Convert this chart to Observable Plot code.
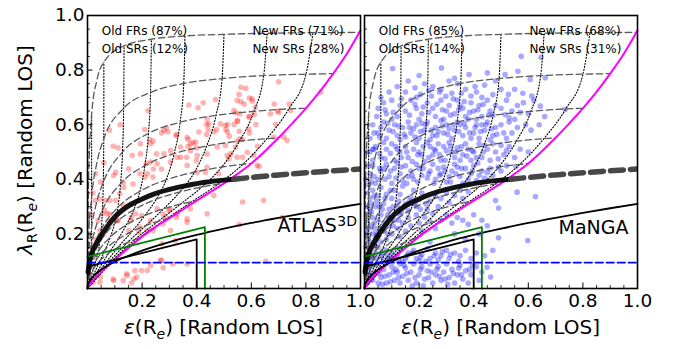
<!DOCTYPE html>
<html><head><meta charset="utf-8">
<script src="https://cdn.jsdelivr.net/npm/d3@7"></script>
<script src="https://cdn.jsdelivr.net/npm/@observablehq/plot@0.6"></script>
<style>
body{margin:0;background:#fff;}
#wrap{position:relative;width:681px;height:349px;font-family:"DejaVu Sans",sans-serif;}
#wrap svg{position:absolute;left:0;top:0;}
</style></head><body><div id="wrap"></div>
<script>
// ---- tick values ----
const tickLabels = [0.2, 0.4, 0.6, 0.8, 1.0];
const majorTicks = [0.2, 0.4, 0.6, 0.8];
const minorTicks = [0.05,0.1,0.15,0.25,0.3,0.35,0.45,0.5,0.55,0.65,0.7,0.75,0.85,0.9,0.95];

// ---- panel texts ----
const panelNames = ["ATLAS", "MaNGA"];
const atlasTexts = ["Old FRs (87%)", "Old SRs (12%)", "New FRs (71%)", "New SRs (28%)"];
const mangaTexts = ["Old FRs (85%)", "Old SRs (14%)", "New FRs (68%)", "New SRs (31%)"];

// ---- model curves [eps, lambda] ----
const magentaLine = [[0,0],[0.02,0.03],[0.05,0.06],[0.1,0.105],[0.15,0.148],[0.2,0.19],[0.25,0.226],[0.3,0.258],[0.35,0.29],[0.4,0.322],[0.45,0.353],[0.5,0.385],[0.55,0.42],[0.6,0.458],[0.65,0.503],[0.7,0.552],[0.75,0.605],[0.8,0.66],[0.85,0.72],[0.9,0.787],[0.95,0.86],[1.0,0.945]];
const dashedCurves = [
 [[0,0],[0.0038,0.389],[0.015,0.635],[0.0341,0.762],[0.06,0.829],[0.134,0.889],[0.234,0.913],[0.357,0.925],[0.5,0.931],[0.658,0.935],[0.826,0.937],[0.995,0.938]],
 [[0,0],[0.0038,0.179],[0.0151,0.335],[0.0337,0.457],[0.0597,0.548],[0.1325,0.66],[0.231,0.718],[0.3526,0.751],[0.493,0.769],[0.6453,0.78],[0.8002,0.785],[0.9,0.787]],
 [[0,0],[0.0037,0.114],[0.0146,0.22],[0.0327,0.313],[0.0578,0.389],[0.1282,0.5],[0.2233,0.568],[0.3392,0.609],[0.4708,0.634],[0.6097,0.649],[0.7373,0.658],[0.8,0.66]],
 [[0,0],[0.0035,0.08],[0.0139,0.157],[0.031,0.227],[0.0547,0.288],[0.1211,0.384],[0.2101,0.45],[0.3174,0.494],[0.4365,0.522],[0.5567,0.54],[0.6572,0.549],[0.7,0.552]],
 [[0,0],[0.0032,0.059],[0.0128,0.115],[0.0286,0.169],[0.0504,0.217],[0.1112,0.297],[0.192,0.356],[0.2879,0.398],[0.3917,0.426],[0.4918,0.445],[0.5694,0.455],[0.6,0.458]],
 [[0,0],[0.0029,0.045],[0.0114,0.089],[0.0255,0.13],[0.0449,0.169],[0.0986,0.236],[0.1693,0.288],[0.2517,0.327],[0.3386,0.354],[0.4189,0.372],[0.4779,0.382],[0.5,0.385]],
 [[0,0],[0.0097,0.069],[0.0382,0.133],[0.0835,0.188],[0.1423,0.233],[0.2098,0.267],[0.2789,0.292],[0.3405,0.309],[0.3841,0.319],[0.4,0.322]],
 [[0,0],[0.0077,0.052],[0.0303,0.101],[0.0659,0.144],[0.1116,0.18],[0.1629,0.209],[0.2142,0.231],[0.2586,0.246],[0.2891,0.255],[0.3,0.258]],
 [[0,0],[0.0055,0.036],[0.0213,0.071],[0.0461,0.102],[0.0774,0.129],[0.1119,0.151],[0.1456,0.168],[0.1741,0.18],[0.1932,0.188],[0.2,0.19]]
];
const dottedCurves = [
 [[0,0],[0.0029,0.019],[0.0055,0.036],[0.0077,0.052],[0.0097,0.069],[0.0114,0.089],[0.0128,0.115],[0.0139,0.157],[0.0146,0.22],[0.0151,0.335],[0.0152,0.635]],
 [[0,0],[0.0112,0.037],[0.0213,0.071],[0.0303,0.101],[0.0382,0.133],[0.0449,0.169],[0.0504,0.217],[0.0547,0.288],[0.0578,0.389],[0.0597,0.548],[0.06,0.829]],
 [[0,0],[0.024,0.054],[0.0461,0.102],[0.0659,0.144],[0.0835,0.188],[0.0986,0.236],[0.1112,0.297],[0.1211,0.384],[0.1282,0.5],[0.1325,0.66],[0.134,0.889]],
 [[0,0],[0.04,0.069],[0.0774,0.129],[0.1116,0.18],[0.1423,0.233],[0.1693,0.288],[0.192,0.356],[0.2101,0.45],[0.2233,0.568],[0.231,0.718],[0.234,0.913]],
 [[0,0],[0.0574,0.082],[0.1119,0.151],[0.1629,0.209],[0.2098,0.267],[0.2517,0.327],[0.2879,0.398],[0.3174,0.494],[0.3392,0.609],[0.3526,0.751],[0.357,0.925]],
 [[0,0],[0.074,0.092],[0.1456,0.168],[0.2142,0.231],[0.2789,0.292],[0.3386,0.354],[0.3917,0.426],[0.4365,0.522],[0.4708,0.634],[0.493,0.769],[0.5,0.931]],
 [[0,0],[0.0878,0.099],[0.1741,0.18],[0.2586,0.246],[0.3405,0.309],[0.4189,0.372],[0.4918,0.445],[0.5567,0.54],[0.6097,0.649],[0.6453,0.78],[0.658,0.935]],
 [[0,0],[0.0968,0.104],[0.1932,0.188],[0.2891,0.255],[0.3841,0.319],[0.4779,0.382],[0.5694,0.455],[0.6572,0.549],[0.7373,0.658],[0.8002,0.785],[0.826,0.937]]
];
const thickCurve = [[0.002,0.06],[0.008,0.1],[0.02,0.14],[0.04,0.178],[0.07,0.224],[0.1,0.262],[0.143,0.298],[0.2,0.328],[0.24,0.345],[0.3,0.363],[0.363,0.377],[0.43,0.389],[0.5,0.397],[0.536,0.4]];
const thickDashed = [[0.536,0.4],[0.6,0.407],[0.7,0.416],[0.8,0.424],[0.9,0.431],[1.0,0.438]];
const sqrtLine = [[0,0],[0.002,0.014],[0.005,0.022],[0.01,0.031],[0.02,0.044],[0.04,0.062],[0.07,0.082],[0.1,0.098],[0.15,0.12],[0.2,0.139],[0.3,0.17],[0.4,0.196],[0.5,0.219],[0.6,0.24],[0.7,0.259],[0.8,0.277],[0.9,0.294],[1.0,0.31]];
const blackBox = [[0,0.08],[0.4,0.18],[0.4,0]];
const greenBox = [[0,0.117],[0.43,0.225],[0.43,0]];
const blueLine = [[0,0.095],[1,0.095]];

// ---- galaxies [eps, lambda] ----
const atlasPts = [
[0.222,0.652],[0.371,0.672],[0.405,0.662],[0.424,0.68],[0.21,0.582],[0.289,0.589],[0.271,0.57],[0.295,0.574],[0.326,0.564],[0.369,0.546],[0.228,0.546],[0.24,0.54],[0.094,0.521],[0.112,0.515],[0.387,0.534],[0.369,0.521],[0.4,0.515],[0.436,0.601],[0.442,0.582],[0.436,0.564],[0.473,0.582],
[0.7,0.757],[0.855,0.72],[0.562,0.737],[0.58,0.733],[0.555,0.711],[0.593,0.698],[0.562,0.684],[0.574,0.676],[0.604,0.686],[0.684,0.676],[0.544,0.643],[0.537,0.601],[0.55,0.613],[0.593,0.631],[0.611,0.637],[0.617,0.601],[0.69,0.601],[0.696,0.65],[0.739,0.676],[0.513,0.601],[0.507,0.582],[0.556,0.576],[0.593,0.57],[0.549,0.54],[0.568,0.546],[0.519,0.558],[0.623,0.521],
[0.253,0.493],[0.216,0.457],[0.271,0.438],[0.363,0.481],[0.399,0.469],[0.241,0.438],[0.192,0.42],[0.21,0.408],[0.24,0.408],[0.131,0.389],[0.167,0.383],[0.118,0.347],[0.082,0.322],[0.045,0.328],[0.131,0.304],[0.063,0.286],[0.082,0.273],[0.039,0.249],[0.112,0.249],[0.045,0.212],[0.161,0.261],[0.198,0.267],[0.277,0.273],[0.302,0.292],[0.326,0.261],[0.277,0.237],[0.24,0.212],[0.192,0.225],[0.271,0.103],[0.198,0.066],[0.174,0.066],[0.143,0.054],[0.18,0.042],[0.131,0.029],
[0.525,0.493],[0.568,0.481],[0.629,0.447],[0.544,0.402],[0.568,0.317],[0.645,0.322],[0.556,0.234],[0.714,0.261],[0.653,0.1],
[0.145,0.048],[0.096,0.029],[0.048,0.042],[0.365,0.09],[0.267,0.103],
[0.377,0.53],[0.396,0.536],[0.341,0.518],[0.377,0.505],[0.402,0.487],[0.438,0.493],[0.475,0.518],[0.505,0.524],[0.542,0.518],[0.56,0.548],[0.585,0.499],[0.609,0.487],[0.512,0.487],[0.518,0.475],[0.548,0.481],[0.621,0.451],[0.438,0.444],[0.365,0.451],[0.402,0.426],[0.432,0.426],[0.481,0.42],[0.341,0.481],[0.304,0.505],[0.328,0.481],[0.28,0.493],[0.304,0.463],[0.463,0.573],[0.505,0.597],[0.487,0.603],[0.512,0.573],[0.548,0.615],[0.591,0.585],[0.683,0.554],[0.719,0.554],[0.731,0.542],
[0.164,0.487],[0.194,0.493],[0.151,0.438],[0.231,0.463],[0.255,0.457],[0.219,0.42],[0.103,0.426],[0.096,0.414],[0.048,0.39],[0.133,0.371],[0.103,0.322],[0.066,0.322],[0.029,0.322],[0.072,0.274],[0.054,0.274],[0.078,0.249],[0.109,0.249],[0.176,0.274],[0.158,0.249],[0.255,0.292],[0.298,0.286],[0.328,0.274],[0.365,0.255],[0.286,0.261],[0.231,0.249],[0.219,0.212],[0.188,0.206],[0.151,0.212],[0.304,0.212],[0.322,0.176],[0.273,0.164],[0.231,0.084],[0.219,0.066],[0.17,0.035],
[0.548,0.689],[0.603,0.695],[0.615,0.664],[0.469,0.692],[0.536,0.652],[0.558,0.64],[0.591,0.628],[0.67,0.64],[0.701,0.646],[0.744,0.652],[0.438,0.621],[0.444,0.603],[0.408,0.573],[0.28,0.579],[0.325,0.56],[0.365,0.554],[0.231,0.53],[0.194,0.53],
[0.463,0.341],[0.377,0.292],[0.365,0.243],[0.438,0.274],
[0.021,0.023],[0.045,0.023],[0.094,0.035],[0.161,0.02],[0.277,0.076],[0.313,0.09],
[0.02,0.15],[0.03,0.18],[0.06,0.2],[0.015,0.27],[0.02,0.35],[0.03,0.42],[0.06,0.46],[0.08,0.58],[0.12,0.6]
];
const mangaPts = [
[0.103,0.806],[0.282,0.808],[0.383,0.784],[0.574,0.851],[0.647,0.847],[0.562,0.796],[0.515,0.784],[0.607,0.766],[0.662,0.772],[0.2,0.78],[0.45,0.79],[0.33,0.77],[0.16,0.76],
[0.205,0.711],[0.298,0.704],[0.527,0.711],[0.613,0.705],[0.12,0.74],[0.15,0.72],[0.25,0.74],[0.28,0.73],[0.34,0.75],[0.37,0.73],[0.41,0.72],[0.44,0.745],[0.47,0.71],[0.5,0.73],[0.55,0.73],[0.58,0.715],[0.06,0.7],[0.09,0.72],[0.22,0.75],[0.32,0.715],[0.39,0.705],[0.48,0.76],[0.31,0.76],[0.43,0.7],[0.19,0.7],
[0.582,0.68],[0.644,0.668],[0.735,0.656],[0.515,0.637],[0.05,0.66],[0.08,0.64],[0.1,0.69],[0.13,0.67],[0.15,0.65],[0.17,0.69],[0.19,0.66],[0.21,0.64],[0.23,0.68],[0.25,0.66],[0.26,0.63],[0.28,0.69],[0.3,0.65],[0.31,0.67],[0.33,0.64],[0.34,0.69],[0.36,0.66],[0.37,0.63],[0.39,0.68],[0.4,0.65],[0.42,0.67],[0.43,0.63],[0.45,0.69],[0.46,0.65],[0.48,0.67],[0.5,0.66],[0.52,0.69],[0.54,0.65],[0.56,0.67],[0.6,0.64],[0.62,0.69],[0.66,0.63],[0.07,0.68],[0.12,0.63],[0.2,0.62],[0.29,0.62],[0.35,0.67],[0.41,0.62],[0.47,0.635],[0.53,0.625],[0.57,0.645],
[0.03,0.6],[0.05,0.57],[0.07,0.61],[0.09,0.58],[0.11,0.6],[0.12,0.56],[0.14,0.59],[0.16,0.61],[0.17,0.57],[0.19,0.6],[0.2,0.55],[0.22,0.58],[0.23,0.61],[0.25,0.56],[0.26,0.59],[0.28,0.615],[0.29,0.57],[0.3,0.6],[0.32,0.55],[0.33,0.58],[0.34,0.61],[0.36,0.56],[0.37,0.59],[0.38,0.62],[0.4,0.57],[0.41,0.6],[0.42,0.55],[0.44,0.58],[0.45,0.61],[0.47,0.56],[0.48,0.59],[0.5,0.6],[0.51,0.57],[0.53,0.61],[0.54,0.57],[0.56,0.59],[0.59,0.6],[0.61,0.58],[0.64,0.6],[0.08,0.55],[0.1,0.62],[0.13,0.545],[0.18,0.585],[0.21,0.605],[0.24,0.545],[0.27,0.575],[0.31,0.585],[0.35,0.6],[0.39,0.55],[0.43,0.6],[0.46,0.545],[0.52,0.55],[0.55,0.62],[0.15,0.555],[0.06,0.59],
[0.02,0.5],[0.04,0.52],[0.06,0.48],[0.08,0.51],[0.1,0.53],[0.11,0.47],[0.13,0.5],[0.15,0.52],[0.16,0.48],[0.18,0.51],[0.19,0.535],[0.21,0.49],[0.22,0.465],[0.24,0.52],[0.25,0.49],[0.27,0.53],[0.28,0.47],[0.3,0.505],[0.31,0.535],[0.33,0.48],[0.34,0.515],[0.36,0.49],[0.37,0.53],[0.39,0.47],[0.4,0.5],[0.42,0.53],[0.43,0.48],[0.45,0.51],[0.46,0.47],[0.48,0.5],[0.5,0.525],[0.51,0.49],[0.53,0.52],[0.55,0.48],[0.57,0.51],[0.03,0.47],[0.07,0.535],[0.12,0.51],[0.2,0.5],[0.23,0.535],[0.26,0.505],[0.29,0.52],[0.32,0.5],[0.35,0.47],[0.38,0.51],[0.41,0.48],[0.44,0.525],[0.47,0.53],[0.49,0.475],[0.52,0.505],[0.6,0.5],
[0.02,0.42],[0.03,0.45],[0.05,0.4],[0.06,0.43],[0.08,0.455],[0.09,0.41],[0.1,0.385],[0.11,0.44],[0.13,0.42],[0.14,0.395],[0.15,0.45],[0.17,0.43],[0.18,0.4],[0.2,0.44],[0.21,0.415],[0.24,0.43],[0.25,0.455],[0.26,0.4],[0.28,0.42],[0.29,0.445],[0.3,0.39],[0.32,0.43],[0.33,0.455],[0.35,0.41],[0.36,0.385],[0.37,0.44],[0.39,0.42],[0.4,0.45],[0.41,0.395],[0.43,0.43],[0.44,0.405],[0.46,0.44],[0.47,0.415],[0.49,0.445],[0.5,0.43],[0.52,0.45],[0.555,0.447],[0.04,0.385],[0.07,0.44],[0.12,0.46],[0.16,0.41],[0.19,0.455],[0.23,0.405],[0.27,0.44],[0.31,0.41],[0.34,0.445],[0.38,0.4],[0.42,0.415],[0.45,0.425],
[0.01,0.3],[0.02,0.33],[0.03,0.36],[0.04,0.3],[0.05,0.34],[0.06,0.37],[0.07,0.31],[0.08,0.345],[0.09,0.29],[0.1,0.33],[0.11,0.36],[0.12,0.3],[0.13,0.345],[0.14,0.375],[0.15,0.31],[0.16,0.285],[0.17,0.335],[0.18,0.36],[0.19,0.3],[0.2,0.325],[0.21,0.35],[0.23,0.29],[0.24,0.32],[0.26,0.34],[0.27,0.3],[0.28,0.33],[0.3,0.35],[0.31,0.315],[0.33,0.34],[0.35,0.36],[0.36,0.33],[0.38,0.355],[0.48,0.322],[0.559,0.353],[0.626,0.337],[0.491,0.295],[0.025,0.28],[0.045,0.32],[0.065,0.29],[0.095,0.36],[0.135,0.28],
[0.01,0.2],[0.01,0.25],[0.02,0.17],[0.02,0.23],[0.03,0.2],[0.03,0.26],[0.04,0.16],[0.04,0.22],[0.05,0.19],[0.05,0.25],[0.06,0.17],[0.06,0.27],[0.07,0.21],[0.07,0.24],[0.08,0.18],[0.09,0.23],[0.09,0.26],[0.1,0.2],[0.11,0.25],[0.12,0.22],[0.13,0.19],[0.13,0.27],[0.14,0.24],[0.15,0.21],[0.16,0.26],[0.17,0.23],[0.19,0.27],[0.2,0.24],[0.21,0.21],[0.22,0.26],[0.24,0.245],[0.25,0.275],[0.26,0.22],[0.28,0.25],[0.3,0.27],[0.32,0.24],[0.34,0.26],[0.36,0.25],[0.38,0.235],[0.4,0.27],[0.43,0.25],[0.45,0.23],[0.491,0.186],[0.598,0.176],[0.33,0.2],[0.37,0.18],[0.42,0.2],[0.24,0.17],
[0.01,0.12],[0.02,0.14],[0.03,0.11],[0.04,0.13],[0.05,0.15],[0.06,0.12],[0.08,0.14],[0.09,0.11],[0.1,0.13],[0.12,0.12],[0.13,0.145],[0.15,0.11],[0.16,0.13],[0.18,0.14],[0.19,0.11],[0.21,0.125],[0.23,0.145],[0.24,0.11],[0.26,0.13],[0.28,0.12],[0.3,0.14],[0.31,0.11],[0.33,0.13],[0.35,0.12],[0.37,0.14],[0.39,0.11],[0.41,0.13],[0.44,0.12],[0.47,0.14],[0.07,0.105],[0.14,0.1],[0.2,0.1],[0.27,0.105],
[0.01,0.02],[0.02,0.05],[0.02,0.08],[0.03,0.03],[0.04,0.06],[0.05,0.09],[0.05,0.02],[0.06,0.04],[0.07,0.07],[0.08,0.09],[0.08,0.02],[0.09,0.05],[0.1,0.08],[0.11,0.03],[0.12,0.06],[0.13,0.09],[0.13,0.02],[0.14,0.045],[0.15,0.075],[0.16,0.03],[0.17,0.06],[0.18,0.09],[0.19,0.02],[0.2,0.05],[0.21,0.08],[0.22,0.035],[0.23,0.065],[0.24,0.09],[0.25,0.02],[0.26,0.05],[0.27,0.08],[0.28,0.03],[0.29,0.06],[0.3,0.09],[0.31,0.04],[0.32,0.07],[0.33,0.02],[0.34,0.05],[0.35,0.085],[0.36,0.035],[0.37,0.065],[0.38,0.02],[0.39,0.05],[0.41,0.08],[0.42,0.03],[0.43,0.06],[0.449,0.078],[0.462,0.042],[0.015,0.065],[0.035,0.085],[0.065,0.015],[0.095,0.025],[0.115,0.07],[0.145,0.085],[0.175,0.01],[0.215,0.01],[0.245,0.06],[0.275,0.045],[0.305,0.015],[0.345,0.075],[0.395,0.085],
[0.005,0.15],[0.01,0.35],[0.015,0.45],[0.02,0.55],[0.005,0.4],[0.01,0.5],[0.02,0.29],[0.008,0.22],[0.03,0.51],[0.012,0.18],[0.025,0.39],[0.035,0.57],[0.01,0.08],[0.005,0.05],
[0.045,0.63],[0.075,0.655],[0.105,0.645],[0.135,0.695],[0.165,0.635],[0.185,0.675],[0.215,0.665],[0.235,0.645],[0.265,0.675],[0.285,0.655],[0.315,0.635],[0.345,0.655],[0.365,0.685],[0.385,0.645],[0.415,0.655],[0.435,0.675],[0.455,0.635],[0.245,0.705],[0.325,0.695],[0.275,0.72],[0.355,0.715],[0.235,0.725],[0.185,0.735],[0.405,0.74],
[0.055,0.555],[0.085,0.605],[0.105,0.575],[0.125,0.595],[0.145,0.565],[0.165,0.59],[0.185,0.555],[0.205,0.575],[0.225,0.6],[0.245,0.58],[0.265,0.56],[0.285,0.595],[0.305,0.565],[0.325,0.6],[0.345,0.575],[0.365,0.605],[0.385,0.57],[0.405,0.59],[0.425,0.575],[0.445,0.6],[0.465,0.585],[0.485,0.565],
[0.035,0.51],[0.055,0.495],[0.075,0.475],[0.095,0.495],[0.115,0.52],[0.135,0.48],[0.155,0.5],[0.175,0.465],[0.195,0.49],[0.215,0.52],[0.235,0.48],[0.255,0.51],[0.275,0.49],[0.295,0.47],[0.315,0.52],[0.335,0.5],[0.355,0.52],[0.375,0.485],[0.395,0.505],[0.415,0.46],[0.435,0.5],
[0.015,0.38],[0.035,0.41],[0.055,0.44],[0.075,0.4],[0.095,0.43],[0.115,0.405],[0.135,0.445],[0.155,0.385],[0.175,0.415],[0.195,0.39],[0.215,0.44],[0.235,0.42],[0.255,0.385],[0.275,0.415],[0.295,0.43],[0.315,0.39],[0.335,0.42],[0.355,0.44],[0.395,0.43],
[0.015,0.27],[0.025,0.31],[0.035,0.34],[0.055,0.3],[0.075,0.33],[0.085,0.27],[0.105,0.3],[0.125,0.32],[0.145,0.3],[0.165,0.32],[0.185,0.31],[0.205,0.29],[0.225,0.31],[0.015,0.22],[0.035,0.24],[0.045,0.2],[0.065,0.22],[0.085,0.2],[0.105,0.23],[0.125,0.25],
[0.015,0.1],[0.025,0.12],[0.045,0.11],[0.065,0.13],[0.085,0.12],[0.105,0.11],[0.125,0.1],[0.155,0.12],[0.175,0.13],[0.205,0.115],[0.225,0.1],[0.255,0.12],[0.285,0.135],[0.315,0.125],[0.345,0.1],
[0.025,0.035],[0.055,0.055],[0.075,0.045],[0.105,0.06],[0.125,0.04],[0.155,0.055],[0.185,0.04],[0.205,0.07],[0.235,0.04],[0.265,0.07],[0.295,0.035],[0.325,0.055],[0.355,0.05],[0.385,0.07]
];

const X = d => d[0], Y = d => d[1];

function panel({pts, color, opacity, mLeft, mRight, texts, showY, name}) {
  const marks = [];
  marks.push(Plot.dot(pts, {x: X, y: Y, r: 2.8, fill: color, fillOpacity: opacity}));
  for (const c of dottedCurves) marks.push(Plot.line(c, {x: X, y: Y, stroke: "black", strokeWidth: 1.1, strokeDasharray: "1.1,1.9", curve: "monotone-x"}));
  for (const c of dashedCurves) marks.push(Plot.line(c, {x: X, y: Y, stroke: "#5a5a5a", strokeWidth: 1.3, strokeDasharray: "6.5,3.5", curve: "monotone-x"}));
  marks.push(Plot.line(magentaLine, {x: X, y: Y, stroke: "#ff00ff", strokeWidth: 2, curve: "monotone-x"}));
  marks.push(Plot.line(thickCurve, {x: X, y: Y, stroke: "black", strokeOpacity: 0.92, strokeWidth: 5, curve: "monotone-x"}));
  marks.push(Plot.line(thickDashed, {x: X, y: Y, stroke: "#474747", strokeWidth: 5.5, strokeDasharray: "13,7", curve: "monotone-x", clip: true}));
  marks.push(Plot.line(sqrtLine, {x: X, y: Y, stroke: "black", strokeWidth: 1.8, curve: "monotone-x"}));
  marks.push(Plot.line(blackBox, {x: X, y: Y, stroke: "black", strokeWidth: 1.8}));
  marks.push(Plot.line(greenBox, {x: X, y: Y, stroke: "#008000", strokeWidth: 1.8}));
  marks.push(Plot.line(blueLine, {x: X, y: Y, stroke: "#0000ff", strokeWidth: 1.8, strokeDasharray: "7.5,3.5"}));
  // annotations
  marks.push(Plot.text([texts[0]], {x: () => 0.052, y: () => 0.928, text: d => d, textAnchor: "start", lineAnchor: "bottom", fontSize: 12, fill: "black"}));
  marks.push(Plot.text([texts[1]], {x: () => 0.052, y: () => 0.861, text: d => d, textAnchor: "start", lineAnchor: "bottom", fontSize: 12, fill: "black"}));
  marks.push(Plot.text([texts[2]], {x: () => 0.604, y: () => 0.928, text: d => d, textAnchor: "start", lineAnchor: "bottom", fontSize: 12, fill: "black"}));
  marks.push(Plot.text([texts[3]], {x: () => 0.604, y: () => 0.861, text: d => d, textAnchor: "start", lineAnchor: "bottom", fontSize: 12, fill: "black"}));
  if (name === "ATLAS") {
    marks.push(Plot.text([name], {x: () => 0.696, y: () => 0.206, text: d => d, textAnchor: "start", lineAnchor: "bottom", fontSize: 19, fill: "black"}));
    marks.push(Plot.text(["3D"], {x: () => 0.915, y: () => 0.228, text: d => d, textAnchor: "start", lineAnchor: "bottom", fontSize: 14, fill: "black"}));
  } else {
    marks.push(Plot.text([name], {x: () => 0.967, y: () => 0.2, text: d => d, textAnchor: "end", lineAnchor: "bottom", fontSize: 19, fill: "black"}));
  }
  // inward ticks
  marks.push(Plot.ruleY(majorTicks, {y: d => d, x1: () => 0, x2: () => 0.02, stroke: "black", strokeWidth: 1}));
  marks.push(Plot.ruleY(minorTicks, {y: d => d, x1: () => 0, x2: () => 0.011, stroke: "black", strokeWidth: 0.8}));
  marks.push(Plot.ruleX(majorTicks, {x: d => d, y1: () => 0, y2: () => 0.02, stroke: "black", strokeWidth: 1}));
  marks.push(Plot.ruleX(minorTicks, {x: d => d, y1: () => 0, y2: () => 0.011, stroke: "black", strokeWidth: 0.8}));
  marks.push(Plot.frame({stroke: "black", strokeWidth: 1.6}));
  marks.push(Plot.axisX(tickLabels, {tickSize: 0, tickPadding: 5, tickFormat: d => d.toFixed(1), fontSize: 18.5, label: null}));
  if (showY) marks.push(Plot.axisY(tickLabels, {tickSize: 0, tickPadding: 3, tickFormat: d => d.toFixed(1), fontSize: 18.5, label: null}));
  return Plot.plot({
    width: 681, height: 349,
    marginLeft: mLeft, marginRight: mRight, marginTop: 15, marginBottom: 61,
    x: {domain: [0, 1], axis: null},
    y: {domain: [0, 1], axis: null},
    style: {background: "transparent", overflow: "visible", fontFamily: "DejaVu Sans", fontSize: "18px", color: "black"},
    marks
  });
}

const wrap = document.getElementById("wrap");
wrap.appendChild(panel({pts: atlasPts, color: "#ff0000", opacity: 0.3, mLeft: 87, mRight: 321, texts: atlasTexts, showY: true, name: panelNames[0]}));
wrap.appendChild(panel({pts: mangaPts, color: "#0000ff", opacity: 0.34, mLeft: 364, mRight: 44, texts: mangaTexts, showY: false, name: panelNames[1]}));

// axis titles with sub-scripts
const ov = d3.select(wrap).append("svg").attr("width", 681).attr("height", 349)
  .style("font-family", "DejaVu Sans").style("font-size", "20px");
function label(g, parts) {
  const t = g.append("text").attr("text-anchor", "middle").attr("fill", "black");
  for (const p of parts) {
    const s = t.append("tspan").text(p.t);
    if (p.it) s.attr("font-style", "italic");
    if (p.sub) s.attr("font-size", "14px").attr("dy", 5);
    if (p.up) s.attr("dy", -5);
  }
  return t;
}
const xParts = [{t: "ε", it: true}, {t: "(R"}, {t: "e", sub: true, it: true}, {t: ") [Random LOS]", up: true}];
const yParts = [{t: "λ", it: true}, {t: "R", sub: true}, {t: "(R", up: true}, {t: "e", sub: true, it: true}, {t: ") [Random LOS]", up: true}];
label(ov.append("g").attr("transform", "translate(223.5,334)"), xParts);
label(ov.append("g").attr("transform", "translate(500.5,334)"), xParts);
label(ov.append("g").attr("transform", "translate(32,150) rotate(-90)"), yParts);
</script>
</body></html>
